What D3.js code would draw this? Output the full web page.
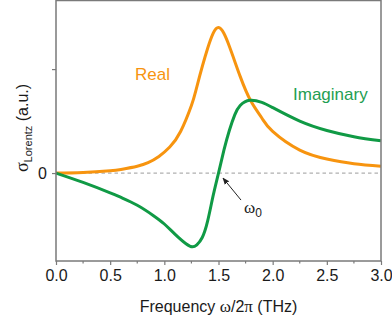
<!DOCTYPE html>
<html>
<head>
<meta charset="utf-8">
<script src="https://cdn.jsdelivr.net/npm/d3@7"></script>
<style>
    body {margin: 0; background: #fff;}
    svg {display: block;}
</style>
</head>
<body>
<div id="chart"></div>
<script>
// Lorentz oscillator conductivity (arbitrary units)
var freq_real = [0.0, 0.25, 0.5, 0.6, 0.75, 0.85, 0.95, 1.05, 1.15, 1.25, 1.3, 1.4, 1.5, 1.6, 1.7, 1.8, 1.9, 2.0, 2.25, 2.5, 2.75, 3.0];
var sigma_real = [0, 0.006, 0.022, 0.035, 0.066, 0.1, 0.16, 0.25, 0.40, 0.65, 0.83, 1.2, 1.40, 1.22, 0.93, 0.69, 0.53, 0.40, 0.22, 0.135, 0.09, 0.066];

var freq_imag = [0.0, 0.25, 0.5, 0.6, 0.75, 0.9, 1.0, 1.1, 1.2, 1.26, 1.3, 1.35, 1.4, 1.45, 1.5, 1.55, 1.6, 1.65, 1.7, 1.79, 1.9, 2.0, 2.25, 2.5, 2.75, 3.0];
var sigma_imag = [0, -0.09, -0.19, -0.235, -0.31, -0.41, -0.49, -0.59, -0.68, -0.71, -0.69, -0.62, -0.46, -0.22, 0.0, 0.22, 0.41, 0.56, 0.65, 0.70, 0.68, 0.63, 0.50, 0.41, 0.35, 0.31];

var x_ticks = [0, 0.5, 1.0, 1.5, 2.0, 2.5, 3.0];
var x_minor = [0.25, 0.75, 1.25, 1.75, 2.25, 2.75];
var y_ticks = [0, 1];
var y_labels = ["0", ""];

var omega0 = 1.5;

var width = 392, height = 323;
var margin = {top: 0.5, right: 11, bottom: 62, left: 56};
var inner_width = width - margin.left - margin.right;
var inner_height = height - margin.top - margin.bottom;

var orange = "#f7940f";
var green = "#109a45";
var axis_col = "#7a7a7a";
var font = "'Liberation Sans', Arial, sans-serif";

var svg = d3.select("#chart").append("svg")
    .attr("width", width)
    .attr("height", height);

var g = svg.append("g")
    .attr("transform", "translate(" + margin.left + "," + margin.top + ")");

var x_scale = d3.scaleLinear().domain([0, 3]).range([0, inner_width]);
var y_scale = d3.scaleLinear().domain([-0.846, 1.66]).range([inner_height, 0]);

//Zero line
g.append("line")
    .attr("x1", 0).attr("x2", inner_width)
    .attr("y1", y_scale(0)).attr("y2", y_scale(0))
    .attr("stroke", "#b0b0b0")
    .attr("stroke-width", 1.3)
    .attr("stroke-dasharray", "3.5,3");

//Curves
var line = d3.line()
    .x(function(d) {return x_scale(d[0]);})
    .y(function(d) {return y_scale(d[1]);})
    .curve(d3.curveNatural);

g.append("path")
    .attr("d", line(d3.zip(freq_real, sigma_real)))
    .attr("fill", "none")
    .attr("stroke", orange)
    .attr("stroke-width", 3);

g.append("path")
    .attr("d", line(d3.zip(freq_imag, sigma_imag)))
    .attr("fill", "none")
    .attr("stroke", green)
    .attr("stroke-width", 3);

//Frame
g.append("rect")
    .attr("x", 0).attr("y", 0)
    .attr("width", inner_width).attr("height", inner_height)
    .attr("fill", "none")
    .attr("stroke", axis_col)
    .attr("stroke-width", 1.5);

//X axis
var x_axis = d3.axisBottom(x_scale)
    .tickValues(x_ticks)
    .tickSize(4)
    .tickPadding(5)
    .tickFormat(d3.format(".1f"));

var xg = g.append("g")
    .attr("transform", "translate(0," + inner_height + ")")
    .call(x_axis);
xg.select(".domain").remove();

xg.selectAll(".minor")
    .data(x_minor).enter().append("line")
    .attr("x1", function(d) {return x_scale(d);})
    .attr("x2", function(d) {return x_scale(d);})
    .attr("y1", 0).attr("y2", 2.5)
    .attr("stroke", axis_col)
    .attr("stroke-width", 1.2);

//Y axis
var y_axis = d3.axisLeft(y_scale)
    .tickValues(y_ticks)
    .tickSize(4)
    .tickPadding(5)
    .tickFormat(function(d, i) {return y_labels[i];});

var yg = g.append("g").call(y_axis);
yg.select(".domain").remove();

svg.selectAll(".tick line")
    .attr("stroke", axis_col)
    .attr("stroke-width", 1.2);
svg.selectAll(".tick text")
    .attr("fill", "#1a1a1a")
    .style("font-family", font)
    .style("font-size", "16px");

//Axis labels
var x_title = svg.append("text")
    .attr("x", margin.left + x_scale(1.5))
    .attr("y", 312)
    .attr("text-anchor", "middle")
    .attr("fill", "#1a1a1a")
    .style("font-family", font)
    .style("font-size", "16px");
x_title.append("tspan").text("Frequency ");
x_title.append("tspan").style("font-family", "'Liberation Serif', serif").style("font-size", "17px").text("\u03C9");
x_title.append("tspan").text("/2");
x_title.append("tspan").style("font-family", "'Liberation Serif', serif").style("font-size", "17px").text("\u03C0");
x_title.append("tspan").text(" (THz)");

var y_title = svg.append("text")
    .attr("transform", "translate(28," + 128 + ") rotate(-90)")
    .attr("text-anchor", "middle")
    .attr("fill", "#1a1a1a")
    .style("font-family", font)
    .style("font-size", "16px");
y_title.append("tspan").style("font-family", "'Liberation Serif', serif").style("font-size", "18px").text("\u03C3");
y_title.append("tspan").attr("dy", 4).style("font-size", "11px").text("Lorentz");
y_title.append("tspan").attr("dy", -4).text(" (a.u.)");

//Curve labels
svg.append("text")
    .attr("x", 135).attr("y", 80)
    .attr("fill", orange)
    .style("font-family", font)
    .style("font-size", "17px")
    .text("Real");

svg.append("text")
    .attr("x", 293).attr("y", 100)
    .attr("fill", "#1f9e52")
    .style("font-family", font)
    .style("font-size", "17px")
    .text("Imaginary");

//Arrow to resonance
svg.append("defs").append("marker")
    .attr("id", "head")
    .attr("viewBox", "0 0 10 10")
    .attr("refX", 9).attr("refY", 5)
    .attr("markerWidth", 7).attr("markerHeight", 7)
    .attr("orient", "auto")
    .append("path")
    .attr("d", "M0,1 L10,5 L0,9 z")
    .attr("fill", "#222");

var ax = margin.left + x_scale(omega0) + 4.5;
var ay = margin.top + y_scale(0) + 5;
svg.append("line")
    .attr("x1", ax + 18).attr("y1", ay + 22)
    .attr("x2", ax).attr("y2", ay)
    .attr("stroke", "#222")
    .attr("stroke-width", 1)
    .attr("marker-end", "url(#head)");

var w0 = svg.append("text")
    .attr("x", 244).attr("y", 213)
    .attr("fill", "#222")
    .style("font-family", "'Liberation Serif', serif")
    .style("font-size", "17px");
w0.append("tspan").text("\u03C9");
w0.append("tspan").attr("dy", 4).style("font-family", font).style("font-size", "12px").text("0");
</script>
</body>
</html>
